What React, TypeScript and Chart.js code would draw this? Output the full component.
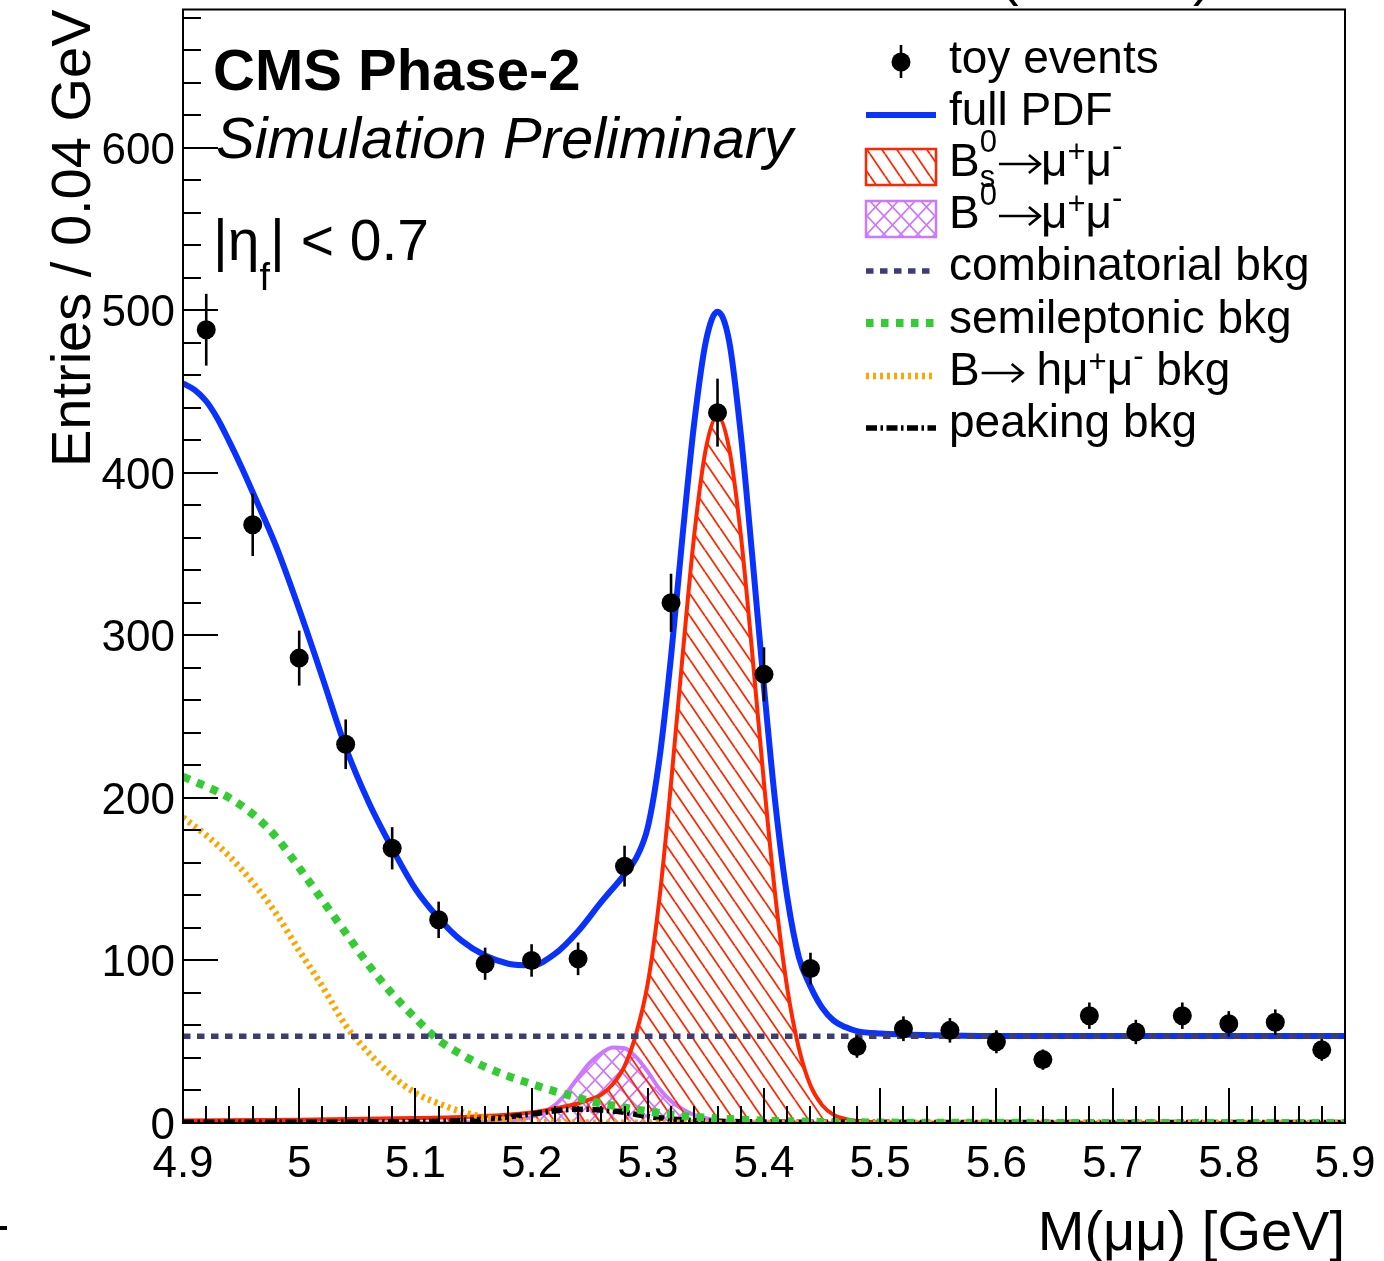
import React, { useEffect, useRef } from "react";
import { Chart, registerables } from "chart.js";

Chart.register(...registerables);

// Toy events: bin centres of the 0.04 GeV bins and entries per bin
const binCenters = [
  4.92, 4.96, 5.0, 5.04, 5.08, 5.12, 5.16, 5.2, 5.24, 5.28, 5.32, 5.36, 5.4,
  5.44, 5.48, 5.52, 5.56, 5.6, 5.64, 5.68, 5.72, 5.76, 5.8, 5.84, 5.88,
];
const toyEntries = [
  488, 368, 286, 233, 169, 125, 98, 100, 101, 158, 320, 437, 276, 95, 47, 58,
  57, 50, 39, 66, 56, 66, 61, 62, 45,
];

// Full PDF
const fullPdfMass = [
  4.9, 4.91, 4.92, 4.93, 4.94, 4.95, 4.96, 4.98, 5.0, 5.02, 5.04, 5.06, 5.08,
  5.1, 5.12, 5.14, 5.16, 5.18, 5.2, 5.22, 5.24, 5.26, 5.28, 5.29, 5.3, 5.31,
  5.32, 5.33, 5.34, 5.35, 5.36, 5.37, 5.38, 5.39, 5.4, 5.41, 5.42, 5.43, 5.44,
  5.45, 5.46, 5.47, 5.48, 5.5, 5.55, 5.6, 5.7, 5.8, 5.9,
];
const fullPdfValue = [
  455, 451, 444, 433, 419, 404, 388, 355, 316, 274, 231, 197, 169, 144, 126,
  112, 103, 98, 97, 104, 118, 136, 153, 163, 182, 224, 287, 362, 431, 481, 499,
  481, 424, 348, 268, 195, 139, 102, 84, 71, 63, 59, 56.5, 55, 54, 53.5, 53.5,
  53.5, 53.5,
];

// Bs0 -> mu+ mu- signal
const bsMass = [
  4.9, 5.0, 5.1, 5.15, 5.2, 5.22, 5.24, 5.25, 5.26, 5.27, 5.28, 5.29, 5.3,
  5.31, 5.32, 5.33, 5.34, 5.35, 5.36, 5.37, 5.38, 5.39, 5.4, 5.41, 5.42, 5.43,
  5.44, 5.45, 5.46, 5.47, 5.48, 5.5, 5.6, 5.9,
];
const bsValue = [
  1.5, 2, 3, 4, 6.5, 9, 12, 14.5, 17.5, 24, 35, 55, 86, 138, 209, 288, 362, 415,
  435, 415, 362, 288, 209, 138, 83, 46, 23, 11, 5, 2.5, 1.2, 0.5, 0.1, 0,
];

// B0 -> mu+ mu- signal
const b0Mass = [
  4.9, 5.12, 5.16, 5.18, 5.19, 5.2, 5.21, 5.22, 5.23, 5.24, 5.25, 5.26, 5.27,
  5.28, 5.29, 5.3, 5.31, 5.32, 5.33, 5.34, 5.35, 5.36, 5.38, 5.42, 5.46, 5.9,
];
const b0Value = [
  0, 0.1, 0.7, 1.5, 2.2, 3.8, 6.5, 11, 18.5, 28, 37, 43, 46.5, 46, 40.5, 31.5,
  21, 13.5, 8.5, 5, 3, 1.7, 0.6, 0.1, 0, 0,
];

// Combinatorial background (flat)
const combMass = [4.9, 5.9];
const combValue = [53.4, 53.4];

// Semileptonic background
const semiMass = [
  4.9, 4.92, 4.94, 4.96, 4.98, 5.0, 5.02, 5.04, 5.06, 5.08, 5.1, 5.12, 5.14,
  5.16, 5.18, 5.2, 5.22, 5.24, 5.26, 5.28, 5.3, 5.32, 5.34, 5.36, 5.4, 5.44,
  5.5, 5.6, 5.9,
];
const semiValue = [
  213, 207, 200, 190, 176, 157, 137, 117, 97, 79.5, 64.5, 51, 42, 34.5, 28.8,
  24, 19.5, 15.5, 12, 9.5, 7.2, 5.2, 3.8, 2.8, 1.5, 0.8, 0.3, 0.1, 0,
];

// B -> h mu+ mu- background
const hmmMass = [
  4.9, 4.92, 4.94, 4.96, 4.98, 5.0, 5.02, 5.04, 5.06, 5.08, 5.1, 5.12, 5.14,
  5.16, 5.18, 5.2, 5.24, 5.3, 5.9,
];
const hmmValue = [
  188, 177, 164, 148, 129, 106, 84, 60, 43, 29, 18.5, 12, 6.8, 3.5, 1.7, 0.8,
  0.3, 0.1, 0,
];

// Peaking background
const peakMass = [
  4.9, 5.0, 5.1, 5.14, 5.17, 5.2, 5.22, 5.24, 5.26, 5.28, 5.3, 5.32, 5.34,
  5.38, 5.5, 5.9,
];
const peakValue = [
  0.5, 0.5, 0.8, 1.5, 3, 5.5, 7.5, 8.5, 8, 6.5, 4, 2.5, 1.5, 0.8, 0.4, 0.3,
];

// Axes
const xTickValues = [4.9, 5.0, 5.1, 5.2, 5.3, 5.4, 5.5, 5.6, 5.7, 5.8, 5.9];
const xTickLabels = ["4.9", "5", "5.1", "5.2", "5.3", "5.4", "5.5", "5.6", "5.7", "5.8", "5.9"];
const yTickValues = [0, 100, 200, 300, 400, 500, 600];
const yTickLabels = ["0", "100", "200", "300", "400", "500", "600"];
const X_MIN = 4.9;
const X_MAX = 5.9;
const Y_MAX = 685;

const FONT = '"Liberation Sans", Arial, Helvetica, sans-serif';

const COL_BLUE = "#0a32ff";
const COL_RED = "#ff2600";
const COL_VIOLET = "#cc77ff";
const COL_COMB = "#3d3d75";
const COL_GREEN = "#33cc33";
const COL_ORANGE = "#ffa500";

const DASH_COMB = [7.5, 6.5];
const DASH_SEMI = [7.5, 7.5];
const DASH_HMM = [3, 4];
const DASH_PEAK = [11, 3.5, 2.5, 3.5];

const W_COMB = 5.5;
const W_SEMI = 8;
const W_HMM = 6.5;
const W_PEAK = 5.5;

const LEG_SIZE = 46;
const LEG_SCRIPT = 31;

const pts = (xs: number[], ys: number[]) => xs.map((x, i) => ({ x, y: ys[i] }));

function makeHatch(
  ctx: CanvasRenderingContext2D,
  color: string,
  w: number,
  h: number,
  lw: number,
  cross: boolean
) {
  const tile = document.createElement("canvas");
  tile.width = w;
  tile.height = h;
  const g = tile.getContext("2d")!;
  g.strokeStyle = color;
  g.lineWidth = lw;
  g.beginPath();
  for (const o of [-w, 0, w]) {
    g.moveTo(o, 0);
    g.lineTo(o + w, h);
    if (cross) {
      g.moveTo(o + w, 0);
      g.lineTo(o, h);
    }
  }
  g.stroke();
  return ctx.createPattern(tile, "repeat")!;
}

type Seg =
  | { t: string; size: number; dy?: number; style?: string }
  | { sup: string; sub: string; size: number; supDy: number; subDy: number }
  | { arrow: number };

function drawRich(ctx: CanvasRenderingContext2D, x: number, y: number, segs: Seg[]) {
  let cx = x;
  ctx.textAlign = "left";
  ctx.textBaseline = "alphabetic";
  for (const s of segs) {
    if ("arrow" in s) {
      // right arrow drawn as a stroke with an open head
      const ay = y - 12;
      const x0 = cx + 2;
      const x1 = cx + s.arrow - 1;
      ctx.save();
      ctx.strokeStyle = ctx.fillStyle as string;
      ctx.lineWidth = 2.6;
      ctx.beginPath();
      ctx.moveTo(x0, ay);
      ctx.lineTo(x1, ay);
      ctx.moveTo(x1 - 11, ay - 9);
      ctx.lineTo(x1, ay);
      ctx.lineTo(x1 - 11, ay + 9);
      ctx.stroke();
      ctx.restore();
      cx += s.arrow;
    } else if ("t" in s) {
      ctx.font = `${s.style ?? ""} ${s.size}px ${FONT}`;
      ctx.fillText(s.t, cx, y + (s.dy ?? 0));
      cx += ctx.measureText(s.t).width;
    } else {
      ctx.font = `${s.size}px ${FONT}`;
      if (s.sup) ctx.fillText(s.sup, cx, y + s.supDy);
      if (s.sub) ctx.fillText(s.sub, cx, y + s.subDy);
      cx += Math.max(ctx.measureText(s.sup).width, ctx.measureText(s.sub).width);
    }
  }
}

export default function App() {
  const ref = useRef<HTMLCanvasElement>(null);

  useEffect(() => {
    const canvas = ref.current!;
    const ctx = canvas.getContext("2d")!;
    const bsHatch = makeHatch(ctx, COL_RED, 15, 22, 1.8, false);
    const b0Hatch = makeHatch(ctx, COL_VIOLET, 17, 18, 1.7, true);

    const curve = {
      pointRadius: 0,
      pointHoverRadius: 0,
      pointHitRadius: 0,
      cubicInterpolationMode: "monotone" as const,
      fill: false,
    };

    // Error bars (sqrt(N)) below the markers of the toy dataset
    const errorBars = {
      id: "errorBars",
      beforeDatasetDraw(chart: any, args: any) {
        if (args.index !== 0) return;
        const c = chart.ctx;
        const xs = chart.scales.x;
        const ys = chart.scales.y;
        c.save();
        c.strokeStyle = "#000";
        c.lineWidth = 2.6;
        binCenters.forEach((m, i) => {
          const n = toyEntries[i];
          const e = Math.sqrt(n);
          const px = xs.getPixelForValue(m);
          c.beginPath();
          c.moveTo(px, ys.getPixelForValue(n + e));
          c.lineTo(px, ys.getPixelForValue(Math.max(0, n - e)));
          c.stroke();
        });
        c.restore();
      },
    };

    const frameAndText = {
      id: "frameAndText",
      afterDraw(chart: any) {
        const c: CanvasRenderingContext2D = chart.ctx;
        const { left, right, top, bottom } = chart.chartArea;
        const xs = chart.scales.x;
        const ys = chart.scales.y;
        c.save();
        c.fillStyle = "#000";
        c.strokeStyle = "#000";

        // frame
        c.lineWidth = 2;
        c.strokeRect(left, top, right - left, bottom - top);

        // ticks drawn inside the frame
        c.beginPath();
        for (let v = 0; v <= Y_MAX; v += 20) {
          const py = Math.round(ys.getPixelForValue(v));
          const len = v % 100 === 0 ? 35 : 18;
          c.moveTo(left, py);
          c.lineTo(left + len, py);
        }
        for (let i = 0; i <= 50; i++) {
          const v = X_MIN + i * 0.02;
          const px = Math.round(xs.getPixelForValue(v));
          const len = i % 5 === 0 ? 35 : 17;
          c.moveTo(px, bottom);
          c.lineTo(px, bottom - len);
        }
        c.stroke();

        // tick labels
        c.font = `44px ${FONT}`;
        c.textBaseline = "alphabetic";
        c.textAlign = "right";
        yTickValues.forEach((v, i) => {
          c.fillText(yTickLabels[i], 175, ys.getPixelForValue(v) + 16);
        });
        c.textAlign = "center";
        xTickValues.forEach((v, i) => {
          c.fillText(xTickLabels[i], xs.getPixelForValue(v), 1177);
        });

        // axis titles
        c.font = `56px ${FONT}`;
        c.textAlign = "right";
        c.fillText("M(\u03bc\u03bc) [GeV]", right, 1250);
        c.save();
        c.translate(90, top);
        c.rotate(-Math.PI / 2);
        c.textAlign = "right";
        c.fillText("Entries / 0.04 GeV", 0, 0);
        c.restore();

        // energy label above the frame
        c.textAlign = "left";
        c.font = `56px ${FONT}`;
        c.fillText("(14 TeV)", 1000, -6);
        c.fillRect(0, 1226, 7, 4);

        // CMS labels
        c.font = `bold 58px ${FONT}`;
        c.fillText("CMS Phase-2", 213, 90);
        c.font = `italic 58px ${FONT}`;
        c.fillText("Simulation Preliminary", 216, 158);
        drawRich(c, 213, 260, [
          { t: "|\u03b7", size: 57 },
          { t: "f", size: 38, dy: 30 },
          { t: "| < 0.7", size: 57 },
        ]);

        // legend
        const LX0 = 866;
        const LX1 = 936;
        const TX = 949;
        const rows = [62, 115, 167, 219, 271, 323, 376, 428];

        c.lineWidth = 2.6;
        c.beginPath();
        c.moveTo(901, rows[0] - 17);
        c.lineTo(901, rows[0] + 16);
        c.stroke();
        c.beginPath();
        c.arc(901, rows[0], 9.5, 0, Math.PI * 2);
        c.fill();

        c.strokeStyle = COL_BLUE;
        c.lineWidth = 6;
        c.beginPath();
        c.moveTo(LX0, rows[1]);
        c.lineTo(LX1, rows[1]);
        c.stroke();

        c.fillStyle = bsHatch;
        c.fillRect(LX0, rows[2] - 18, LX1 - LX0, 36);
        c.strokeStyle = COL_RED;
        c.lineWidth = 2.5;
        c.strokeRect(LX0, rows[2] - 18, LX1 - LX0, 36);

        c.fillStyle = b0Hatch;
        c.fillRect(LX0, rows[3] - 18, LX1 - LX0, 36);
        c.strokeStyle = COL_VIOLET;
        c.lineWidth = 2.5;
        c.strokeRect(LX0, rows[3] - 18, LX1 - LX0, 36);

        const dashed = (y: number, color: string, w: number, dash: number[]) => {
          c.strokeStyle = color;
          c.lineWidth = w;
          c.setLineDash(dash);
          c.beginPath();
          c.moveTo(LX0, y);
          c.lineTo(LX1, y);
          c.stroke();
          c.setLineDash([]);
        };
        dashed(rows[4], COL_COMB, W_COMB, DASH_COMB);
        dashed(rows[5], COL_GREEN, W_SEMI, DASH_SEMI);
        dashed(rows[6], COL_ORANGE, W_HMM, DASH_HMM);
        dashed(rows[7], "#000", W_PEAK, DASH_PEAK);

        c.fillStyle = "#000";
        c.font = `${LEG_SIZE}px ${FONT}`;
        c.textAlign = "left";
        c.fillText("toy events", TX, rows[0] + 11);
        c.fillText("full PDF", TX, rows[1] + 10);
        drawRich(c, TX, rows[2] + 9, [
          { t: "B", size: LEG_SIZE },
          { sup: "0", sub: "s", size: LEG_SCRIPT, supDy: -24, subDy: 11 },
          { arrow: 44 },
          { t: "\u03bc", size: LEG_SIZE },
          { t: "+", size: LEG_SCRIPT, dy: -14 },
          { t: "\u03bc", size: LEG_SIZE },
          { t: "-", size: LEG_SCRIPT, dy: -20 },
        ]);
        drawRich(c, TX, rows[3] + 9, [
          { t: "B", size: LEG_SIZE },
          { sup: "0", sub: "s", size: LEG_SCRIPT, supDy: -23, subDy: 9999 },
          { arrow: 44 },
          { t: "\u03bc", size: LEG_SIZE },
          { t: "+", size: LEG_SCRIPT, dy: -14 },
          { t: "\u03bc", size: LEG_SIZE },
          { t: "-", size: LEG_SCRIPT, dy: -20 },
        ]);
        c.font = `${LEG_SIZE}px ${FONT}`;
        c.fillText("combinatorial bkg", TX, rows[4] + 9);
        c.fillText("semileptonic bkg", TX, rows[5] + 10);
        drawRich(c, TX, rows[6] + 9, [
          { t: "B", size: LEG_SIZE },
          { arrow: 44 },
          { t: " h\u03bc", size: LEG_SIZE },
          { t: "+", size: LEG_SCRIPT, dy: -13 },
          { t: "\u03bc", size: LEG_SIZE },
          { t: "-", size: LEG_SCRIPT, dy: -19 },
          { t: " bkg", size: LEG_SIZE },
        ]);
        c.font = `${LEG_SIZE}px ${FONT}`;
        c.fillText("peaking bkg", TX, rows[7] + 9);

        c.restore();
      },
    };

    const chart = new Chart(ctx, {
      type: "line",
      data: {
        datasets: [
          {
            label: "toy events",
            data: pts(binCenters, toyEntries),
            showLine: false,
            pointRadius: 9.5,
            pointHoverRadius: 9.5,
            pointBackgroundColor: "#000",
            pointBorderColor: "#000",
            pointBorderWidth: 0,
            order: 0,
          },
          {
            label: "combinatorial bkg",
            data: pts(combMass, combValue),
            borderColor: COL_COMB,
            borderWidth: W_COMB,
            borderDash: DASH_COMB,
            ...curve,
            order: 1,
          },
          {
            label: "full PDF",
            data: pts(fullPdfMass, fullPdfValue),
            borderColor: COL_BLUE,
            borderWidth: 6,
            ...curve,
            order: 2,
          },
          {
            label: "semileptonic bkg",
            data: pts(semiMass, semiValue),
            borderColor: COL_GREEN,
            borderWidth: W_SEMI,
            borderDash: DASH_SEMI,
            ...curve,
            order: 3,
          },
          {
            label: "B-> h mu mu bkg",
            data: pts(hmmMass, hmmValue),
            borderColor: COL_ORANGE,
            borderWidth: W_HMM,
            borderDash: DASH_HMM,
            ...curve,
            order: 4,
          },
          {
            label: "peaking bkg",
            data: pts(peakMass, peakValue),
            borderColor: "#000",
            borderWidth: W_PEAK,
            borderDash: DASH_PEAK,
            ...curve,
            order: 5,
          },
          {
            label: "Bs",
            data: pts(bsMass, bsValue),
            borderColor: COL_RED,
            borderWidth: 4,
            ...curve,
            fill: "origin",
            backgroundColor: bsHatch,
            order: 6,
          },
          {
            label: "B0",
            data: pts(b0Mass, b0Value),
            borderColor: COL_VIOLET,
            borderWidth: 4,
            ...curve,
            fill: "origin",
            backgroundColor: b0Hatch,
            order: 7,
          },
        ] as any,
      },
      options: {
        animation: false,
        responsive: false,
        maintainAspectRatio: false,
        events: [],
        layout: { padding: { left: 183, right: 39, top: 8, bottom: 138 } },
        plugins: {
          legend: { display: false },
          tooltip: { enabled: false },
        },
        scales: {
          x: { type: "linear", min: X_MIN, max: X_MAX, display: false },
          y: { type: "linear", min: 0, max: Y_MAX, display: false },
        },
      },
      plugins: [errorBars, frameAndText],
    });

    return () => chart.destroy();
  }, []);

  return (
    <div
      style={{
        position: "fixed",
        left: 0,
        top: 0,
        width: 1384,
        height: 1261,
        background: "#fff",
      }}
    >
      <canvas
        ref={ref}
        width={1384}
        height={1261}
        style={{ display: "block", width: 1384, height: 1261 }}
      />
    </div>
  );
}
